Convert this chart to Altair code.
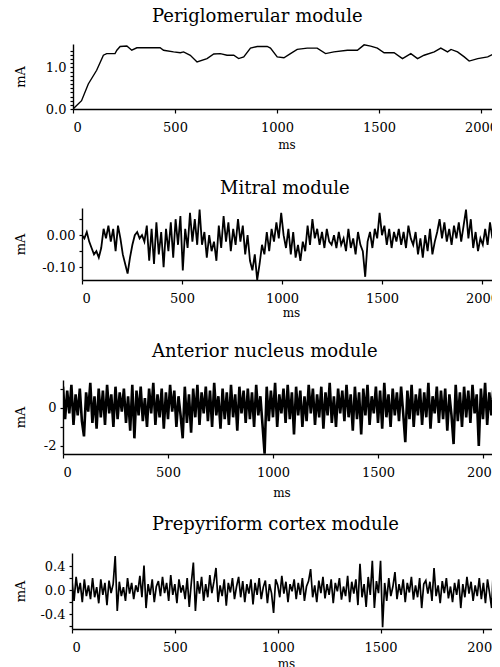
import altair as alt
import pandas as pd

FONT = "DejaVu Serif"

# ---------------- data ----------------
# Periglomerular module (smooth trace), time in ms and current in mA
peri_t = [0, 42, 75, 116, 149, 165, 206, 215, 231, 264, 288, 313, 362, 427, 444, 493,
          526, 542, 575, 608, 657, 690, 722, 755, 788, 812, 837, 870, 903, 952, 968,
          1001, 1034, 1066, 1099, 1148, 1197, 1238, 1279, 1345, 1394, 1427, 1459, 1492,
          1525, 1574, 1615, 1656, 1689, 1721, 1771, 1803, 1836, 1853, 1885, 1918, 1942,
          1984, 2033, 2066, 2090, 2110]
peri_v = [0.0, 0.2, 0.6, 0.93, 1.29, 1.33, 1.33, 1.41, 1.5, 1.51, 1.41, 1.47, 1.47, 1.47,
          1.41, 1.37, 1.35, 1.37, 1.29, 1.13, 1.21, 1.32, 1.33, 1.29, 1.29, 1.21, 1.25,
          1.46, 1.5, 1.5, 1.46, 1.25, 1.23, 1.33, 1.43, 1.46, 1.46, 1.33, 1.37, 1.41, 1.41,
          1.54, 1.51, 1.46, 1.35, 1.35, 1.21, 1.33, 1.21, 1.29, 1.37, 1.46, 1.37, 1.43,
          1.37, 1.25, 1.15, 1.21, 1.25, 1.33, 1.5, 1.5]

# Mitral module, one sample every 12 ms
mitral_step = 12
mitral_v = [0.00, -0.01, 0.01, -0.02,
            -0.04, -0.06, -0.05, -0.07, -0.04,
            0.02, -0.01, 0.03, -0.02, 0.02, -0.05, 0.03, -0.01,
            -0.06, -0.09, -0.12, -0.07,
            -0.03, 0.00, 0.01, -0.01, 0.00,
            -0.02, 0.03, -0.08, 0.02, -0.09, 0.04, -0.06, 0.01, -0.10, 0.02,
            -0.05, 0.04, -0.07, 0.05, -0.03, 0.06, -0.11,
            0.02, -0.04, 0.07, -0.02, 0.05, -0.03, 0.08,
            -0.03, 0.01, -0.07, 0.00, -0.05, -0.02, -0.08,
            0.03, -0.04, 0.06, -0.02, 0.04, -0.05, 0.02,
            -0.03, 0.05, -0.02, 0.03, -0.06, 0.00,
            -0.08, -0.11, -0.06, -0.14, -0.09,
            -0.03, -0.06, 0.01, -0.05, 0.02,
            -0.02, 0.04, -0.01, 0.07, 0.00,
            -0.04, 0.02, -0.06, 0.01,
            -0.07, -0.03, -0.08, -0.02, -0.05,
            0.03, -0.03, 0.05, -0.01, 0.02,
            -0.03, 0.01, -0.04, 0.02, -0.02,
            -0.03, 0.00, -0.04, 0.01, -0.03, -0.01,
            -0.05, 0.02, -0.04, -0.01, -0.06, 0.01, -0.03, -0.05,
            -0.13,
            -0.02, 0.01, -0.04, 0.02, -0.01,
            0.07, 0.00,
            0.03, -0.03, 0.02, -0.04, 0.01, -0.02,
            0.02, -0.03, 0.01, -0.04, 0.03, -0.01, -0.03, 0.01,
            -0.06, -0.01, -0.07, 0.00, -0.05, 0.02, -0.06, -0.02, 0.01,
            0.05, -0.01, 0.04, -0.02,
            0.02, -0.03, 0.03, -0.01, 0.04, -0.02, 0.03,
            0.08,
            -0.01, 0.05, -0.04, 0.01, -0.05, -0.01, -0.03,
            0.02, -0.03, 0.04, -0.01, 0.03, -0.02, 0.05, 0.01]

# Anterior nucleus module, one sample every 10 ms
anterior_step = 10
anterior_v = [1.1, -0.6, 0.9, -0.3, 1.2, -0.9, 0.7, -0.4, 1.0, -0.7,
              -1.5, 0.8, -0.2, 1.3, -0.8, 0.6, -1.1, 1.0, -0.5, 0.9,
              -0.9, 1.2, -0.3, 0.7, -1.0, 1.1, -0.6, 0.8, -0.2, 1.0,
              -0.8, 0.6, -1.2, 1.2, -1.6, 0.9, -0.4, 1.1, -0.7, 0.5,
              -1.0, 1.0, -0.3, 1.3, -0.9, 0.7, -0.5, 1.0, -1.1, 0.8,
              -0.6, 1.2, -0.2, 0.9, -1.0, 0.6, -0.4, -1.6, 1.1, -0.8,
              0.7, -1.3, 1.0, -0.5, 1.2, -0.9, 0.8, -0.3, 1.1, -0.7,
              0.9, -1.0, 1.3, -0.4, 0.6, -1.1, 1.0, -0.6, 0.8, -0.9,
              1.2, -0.5, 0.7, -1.2, 1.1, -0.3, 0.9, -0.8, 1.0, -0.6,
              0.8, -1.0, 1.2, -0.4, 0.6, -0.9, -2.4, 1.1, -0.7, 0.9,
              -0.5, 1.3, -1.0, 0.7, -0.3, 1.0, -0.8, 1.2, -0.6, 0.8,
              -1.4, 1.1, -0.4, 0.9, -1.0, 0.6, -0.7, 1.2, -0.3, 1.0,
              -0.9, 0.7, -0.5, 1.1, -1.1, 0.8, -0.4, 1.3, -0.8, 0.6,
              -1.0, 1.0, -0.3, 0.9, -0.7, 1.2, -0.5, 0.7, -1.2, 1.1,
              -0.6, 0.8, -1.4, 1.0, -0.4, 1.2, -0.9, 0.6, -0.3, 1.1,
              -0.8, 0.9, -1.1, 1.3, -0.5, 0.7, -1.0, 1.0, -0.4, 0.8,
              -0.7, 1.1, -0.3, -1.8, 0.9, -0.6, 1.2, -1.0, 0.7, -0.4,
              1.0, -0.9, 0.8, -0.5, 1.3, -1.1, 0.6, -0.3, 1.1, -0.8,
              0.9, -0.6, 1.0, -1.2, 0.7, -0.4, -1.9, 1.2, -0.7, 0.8,
              -1.0, 1.1, -0.5, 0.9, -0.8, 1.2, -0.3, 0.7, -2.0, 1.0,
              -0.6, 1.3, -0.9, 0.8, -0.4, 1.1, -1.0, 0.7, -0.5, 1.2]

# Prepyriform cortex module, one sample every 10 ms
prepy_step = 10
prepy_v = [0.15, -0.18, 0.22, -0.05, 0.12, -0.20, 0.18, -0.10, 0.08, -0.15,
           0.20, -0.12, 0.05, -0.22, 0.18, -0.08, 0.12, -0.25, 0.16, -0.05,
           0.10, 0.57, -0.35, 0.14, -0.10, 0.05, -0.18, 0.20, -0.06, 0.12,
           -0.15, 0.08, -0.03, 0.24, -0.12, 0.41, -0.30, 0.10, -0.08, 0.18,
           -0.20, 0.06, 0.15, -0.10, 0.22, -0.05, 0.12, -0.18, 0.25, -0.08,
           0.10, -0.22, 0.18, -0.04, 0.08, -0.15, 0.20, -0.28, 0.12, 0.46,
           -0.35, 0.15, -0.06, 0.22, -0.18, 0.10, -0.12, 0.25, -0.05, 0.14,
           0.37, -0.20, 0.08, -0.10, 0.18, -0.26, 0.12, -0.04, 0.20, -0.15,
           0.06, 0.22, -0.12, 0.15, -0.20, 0.10, -0.06, 0.18, -0.24, 0.12,
           -0.08, 0.20, -0.15, 0.05, 0.16, -0.22, 0.10, -0.05, -0.38, 0.18,
           0.08, -0.12, 0.24, -0.06, 0.14, -0.20, 0.10, -0.02, 0.18, -0.15,
           0.12, -0.08, 0.20, -0.18, 0.06, 0.15, 0.35, -0.12, 0.08, -0.20,
           0.16, -0.05, 0.22, -0.14, 0.10, -0.08, 0.18, -0.22, 0.12, -0.02,
           0.20, -0.16, 0.06, -0.10, 0.24, -0.20, 0.14, -0.06, 0.18, -0.25,
           0.44, -0.12, 0.10, -0.28, 0.22, -0.08, 0.49, -0.30, 0.15, -0.05,
           0.49, -0.62, 0.12, -0.18, 0.20, -0.10, 0.06, 0.30, -0.15, 0.10,
           -0.08, 0.18, -0.20, 0.12, -0.04, 0.22, -0.16, 0.08, -0.12, 0.20,
           -0.30, 0.10, 0.16, -0.06, 0.14, -0.18, 0.37, -0.10, 0.08, -0.22,
           0.15, -0.05, 0.20, -0.14, 0.06, -0.20, 0.12, -0.08, 0.18, -0.30,
           0.10, -0.12, 0.22, -0.06, 0.14, -0.18, 0.08, -0.10, 0.20, -0.15,
           0.12, -0.22, 0.18, -0.05, -0.30, 0.50, -0.10, 0.15, -0.20, 0.24]

titles = ["Periglomerular module", "Mitral module",
          "Anterior nucleus module", "Prepyriform cortex module"]
x_ticks = [0, 500, 1000, 1500, 2000]


def frame(t, v):
    return pd.DataFrame({"t": t, "v": v})


def panel(df, title, title_dx, title_offset, ydomain, yvalues, ylabel_expr,
          H, L, s, ms_pad, bottom_extra, stroke):
    W = 500 - L          # plot runs to the right edge of the picture
    ext = L - 30         # fixed left-axis extent so the "mA" titles line up
    xmax = W / s
    line = alt.Chart(df).mark_line(color="black", strokeWidth=stroke, clip=True).encode(
        x=alt.X("t:Q",
                scale=alt.Scale(domain=[0, xmax], nice=False, zero=False),
                axis=alt.Axis(values=x_ticks, format="d", title="ms", titlePadding=ms_pad,
                              labelPadding=8, tickSize=4, grid=False)),
        y=alt.Y("v:Q",
                scale=alt.Scale(domain=ydomain, nice=False, zero=False),
                axis=alt.Axis(values=yvalues, labelExpr=ylabel_expr, title="mA",
                              minExtent=ext, maxExtent=ext, titlePadding=3,
                              labelPadding=4, tickSize=3, grid=False)),
    )
    spacer = alt.Chart(pd.DataFrame({"a": [0]})).mark_rule(opacity=0, strokeWidth=0).encode(
        x=alt.value(0), y=alt.value(H + bottom_extra - 1), y2=alt.value(H + bottom_extra))
    view = alt.layer(line, spacer).properties(
        width=W, height=H,
        title=alt.TitleParams(title, anchor="start", frame="group", dx=title_dx,
                              offset=title_offset, baseline="alphabetic",
                              font=FONT, fontSize=18, fontWeight="normal", color="black"))
    lead = alt.Chart(pd.DataFrame({"a": [0]})).mark_rule(opacity=0, strokeWidth=0).encode(
        x=alt.value(0), y=alt.value(0), y2=alt.value(1)).properties(width=1, height=1)
    return alt.hconcat(lead, view, spacing=0)


p1 = panel(frame(peri_t, peri_v), titles[0], 79, 4, [0, 1.56],
           [0, 0.1, 0.2, 0.3, 0.4, 0.5, 0.6, 0.7, 0.8, 0.9, 1.0, 1.1, 1.2, 1.3, 1.4],
           "datum.value == 0 ? '0.0' : (datum.value == 1 ? '1.0' : '')",
           65, 73, 0.204, 5, 71, 1.4)

p2 = panel(frame([i * mitral_step for i in range(len(mitral_v))], mitral_v), titles[1],
           138, -4, [-0.14, 0.085], [-0.1, -0.05, 0, 0.05],
           "datum.value == 0 ? '0.00' : (datum.value == -0.1 ? '-0.10' : '')",
           72, 82, 0.2, 2, 63, 1.8)

p3 = panel(frame([i * anterior_step for i in range(len(anterior_v))], anterior_v), titles[2],
           89, 5, [-2.42, 1.45], [-2, -1, 0, 1],
           "datum.value == 0 ? '0' : (datum.value == -2 ? '-2' : '')",
           74, 63, 0.21, 8, 62, 2.6)

p4 = panel(frame([i * prepy_step for i in range(len(prepy_v))], prepy_v), titles[3],
           80, 5, [-0.65, 0.62], [-0.6, -0.4, -0.2, 0, 0.2, 0.4],
           "datum.value == 0 ? '0.0' : (datum.value == 0.4 ? '0.4' : (datum.value == -0.4 ? '-0.4' : ''))",
           76, 72, 0.2057, 4, 40, 1.7)

chart = alt.vconcat(p1, p2, p3, p4, spacing=0).properties(
    padding={"left": 5, "top": 0, "right": -8, "bottom": 0}
).configure_view(strokeWidth=0).configure_axis(
    domainColor="black", domainWidth=1.4, tickColor="black", tickWidth=1.2,
    labelFont=FONT, labelFontSize=13, labelColor="black",
    titleFont=FONT, titleFontSize=13, titleFontWeight="normal", titleColor="black"
).configure_axisX(titleFontSize=12)

chart.save("out.html", embed_options={"renderer": "svg", "actions": False})
